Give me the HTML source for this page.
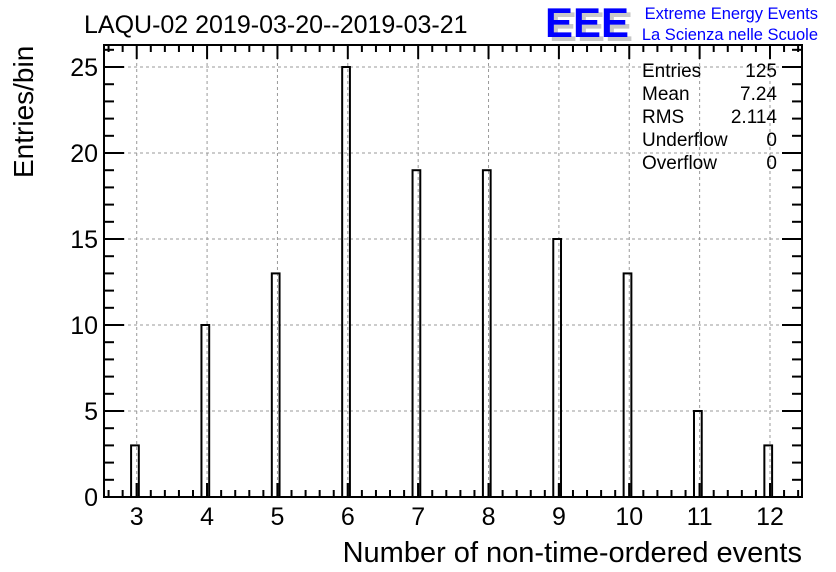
<!DOCTYPE html>
<html><head><meta charset="utf-8"><style>
body{margin:0;background:#fff;}
svg{display:block;font-family:"Liberation Sans",sans-serif;}
</style></head><body>
<svg id="c" width="836" height="572" xmlns="http://www.w3.org/2000/svg">
<text x="84" y="33" font-size="25">LAQU-02 2019-03-20--2019-03-21</text>
<g>
<text x="549" y="41" font-size="42" font-weight="bold" fill="#c8c8c8" textLength="84" lengthAdjust="spacingAndGlyphs">EEE</text>
<text x="545" y="37" font-size="42" font-weight="bold" fill="#0000ff" textLength="84" lengthAdjust="spacingAndGlyphs">EEE</text>
<text x="818" y="19" font-size="16.5" fill="#0000ff" text-anchor="end">Extreme Energy Events</text>
<text x="818" y="40" font-size="16.5" fill="#0000ff" text-anchor="end">La Scienza nelle Scuole</text>
</g>
<g id="grid"></g><g id="bars"></g><g id="axes"></g>
<rect x="104" y="45" width="698" height="452" fill="none" stroke="#000" stroke-width="2"/>
<g font-size="19">
<text x="642" y="77">Entries</text><text x="777" y="77" text-anchor="end">125</text>
<text x="642" y="100">Mean</text><text x="777" y="100" text-anchor="end">7.24</text>
<text x="642" y="123">RMS</text><text x="777" y="123" text-anchor="end">2.114</text>
<text x="642" y="146">Underflow</text><text x="777" y="146" text-anchor="end">0</text>
<text x="642" y="169">Overflow</text><text x="777" y="169" text-anchor="end">0</text>
</g>
<text x="802" y="562" font-size="29" text-anchor="end">Number of non-time-ordered events</text>
<text transform="translate(33,178) rotate(-90)" font-size="28">Entries/bin</text>
</svg>
<script>
const categories=[3,4,5,6,7,8,9,10,11,12];
const counts=[3,10,13,25,19,19,15,13,5,3];
const xTicks=[3,4,5,6,7,8,9,10,11,12];
const yTicks=[0,5,10,15,20,25];
const X0=104,X1=802,Y0=497,Y1=45,xmin=2.535,xmax=12.455,ymin=0,ymax=26.28;
const sx=v=>X0+(v-xmin)/(xmax-xmin)*(X1-X0);
const sy=v=>Y0-(v-ymin)/(ymax-ymin)*(Y0-Y1);
const NS="http://www.w3.org/2000/svg";
function mk(t,a,p){const e=document.createElementNS(NS,t);for(const k in a)e.setAttribute(k,a[k]);p.appendChild(e);return e;}
const grid=document.getElementById('grid'),bars=document.getElementById('bars'),axes=document.getElementById('axes');
xTicks.forEach(v=>{const l=mk('line',{x1:sx(v),x2:sx(v),y1:Y1,y2:Y0,stroke:'#999','stroke-dasharray':'3,3'},grid);

});
yTicks.forEach(v=>{if(v===0)return;const l=mk('line',{x1:X0,x2:X1,y1:sy(v),y2:sy(v),stroke:'#999','stroke-dasharray':'3,3'},grid);

});
categories.forEach((c,i)=>{const x=sx(c-0.08),w=sx(c+0.03)-sx(c-0.08);
const r=mk('rect',{x:x,y:sy(counts[i]),width:w,height:Y0-sy(counts[i]),fill:'none',stroke:'#000','stroke-width':2},bars);


const e=mk('line',{x1:sx(c),x2:sx(c),y1:Y0,y2:Y0-14,stroke:'#000','stroke-width':2},bars);

});
for(let v=2.6;v<=12.45;v+=0.2){const r=Math.round(v*5)/5;const major=Math.abs(r-Math.round(r))<1e-6;const L=major?14:7;
mk('line',{x1:sx(r),x2:sx(r),y1:Y0,y2:Y0-L,stroke:'#000','stroke-width':2},axes);
mk('line',{x1:sx(r),x2:sx(r),y1:Y1,y2:Y1+L,stroke:'#000','stroke-width':2},axes);}
for(let v=0;v<=26;v++){const major=v%5===0;const L=major?20:10;
mk('line',{x1:X0,x2:X0+L,y1:sy(v),y2:sy(v),stroke:'#000','stroke-width':2},axes);
mk('line',{x1:X1,x2:X1-L,y1:sy(v),y2:sy(v),stroke:'#000','stroke-width':2},axes);}
xTicks.forEach(v=>{const t=mk('text',{x:sx(v),y:525,'font-size':25,'text-anchor':'middle'},axes);t.textContent=v;

});
yTicks.forEach(v=>{const t=mk('text',{x:98,y:sy(v)+9,'font-size':25,'text-anchor':'end'},axes);t.textContent=v;

});
</script>
</body></html>
